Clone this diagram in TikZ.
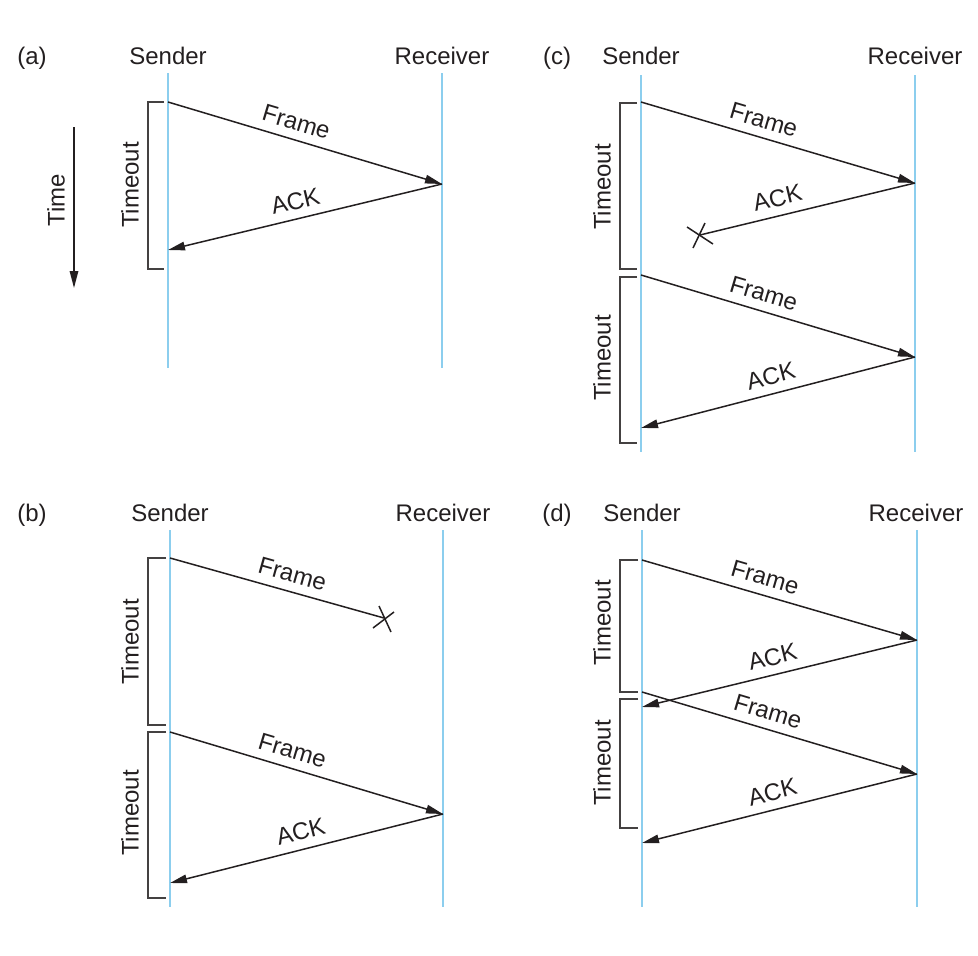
\documentclass[tikz,border=0pt]{standalone}
\usepackage{fontspec}
\setmainfont{Liberation Sans}
\usetikzlibrary{arrows.meta}
\definecolor{inkc}{RGB}{35,31,32}
\definecolor{lifec}{RGB}{140,206,238}
\tikzset{
  life/.style={draw=lifec, line width=1.9pt},
  msg/.style={draw=inkc, line width=1.5pt},
  arr/.style={msg, -{Triangle[length=17pt,width=8.5pt]}},
  brk/.style={draw=inkc!85, line width=1.4pt},
  xmark/.style={draw=inkc, line width=1.5pt},
  hdr/.style={anchor=base, inner sep=0pt, text=inkc, font=\fontsize{24}{28}\selectfont},
  lbl/.style={sloped, above=8.5pt, inner sep=0pt, text=inkc, font=\fontsize{24}{28}\selectfont},
  tmo/.style={rotate=90, inner sep=0pt, text=inkc, font=\fontsize{24}{28}\selectfont},
}
\begin{document}
\begin{tikzpicture}[x=1pt, y=-1pt]
\useasboundingbox (0,0) rectangle (978,956);

% ---------------- (a) ----------------
\node[hdr] (a-lab) at (32,64) {(a)};
\node[hdr] (a-snd) at (168,64) {Sender};
\node[hdr] (a-rcv) at (442,64) {Receiver};
\coordinate (a-st) at (168,73);  \coordinate (a-sb) at (168,368);
\coordinate (a-rt) at (442,73);  \coordinate (a-rb) at (442,368);
\draw[life] (a-st) -- (a-sb);
\draw[life] (a-rt) -- (a-rb);
\coordinate (a-f1) at (168,102); \coordinate (a-r1) at (442,184); \coordinate (a-k1) at (168,250);
\draw[arr] (a-f1) -- node[lbl, pos=.45] (a-fl1) {Frame} (a-r1);
\draw[arr] (a-r1) -- node[lbl, pos=.52] (a-kl1) {ACK} (a-k1);
\draw[brk] (164,102) -| (148,269) -- (164,269);
\node[tmo] (a-to1) at (130,185) {Timeout};
\coordinate (t-top) at (74,127); \coordinate (t-bot) at (74,288);
\draw[arr] (t-top) -- (t-bot);
\node[tmo] (t-lab) at (56,200) {Time};

% ---------------- (b) ----------------
\node[hdr] (b-lab) at (32,521) {(b)};
\node[hdr] (b-snd) at (170,521) {Sender};
\node[hdr] (b-rcv) at (443,521) {Receiver};
\coordinate (b-st) at (170,530);  \coordinate (b-sb) at (170,907);
\coordinate (b-rt) at (443,530);  \coordinate (b-rb) at (443,907);
\draw[life] (b-st) -- (b-sb);
\draw[life] (b-rt) -- (b-rb);
\coordinate (b-f1) at (170,558); \coordinate (b-x1) at (384,618);
\draw[msg] (b-f1) -- node[lbl, pos=.55] (b-fl1) {Frame} (b-x1);
\draw[xmark] (b-x1) ++(-11,10) -- ++(21,-16);
\draw[xmark] (b-x1) ++(-5,-12) -- ++(12,26);
\coordinate (b-f2) at (170,732); \coordinate (b-r2) at (443,814); \coordinate (b-k2) at (170,883);
\draw[arr] (b-f2) -- node[lbl, pos=.43] (b-fl2) {Frame} (b-r2);
\draw[arr] (b-r2) -- node[lbl, pos=.505] (b-kl2) {ACK} (b-k2);
\draw[brk] (166,558) -| (148,725) -- (166,725);
\draw[brk] (166,732) -| (148,898) -- (166,898);
\node[tmo] (b-to1) at (130,642) {Timeout};
\node[tmo] (b-to2) at (130,813) {Timeout};

% ---------------- (c) ----------------
\node[hdr] (c-lab) at (557,64) {(c)};
\node[hdr] (c-snd) at (641,64) {Sender};
\node[hdr] (c-rcv) at (915,64) {Receiver};
\coordinate (c-st) at (641,75);  \coordinate (c-sb) at (641,452);
\coordinate (c-rt) at (915,75);  \coordinate (c-rb) at (915,452);
\draw[life] (c-st) -- (c-sb);
\draw[life] (c-rt) -- (c-rb);
\coordinate (c-f1) at (641,102); \coordinate (c-r1) at (915,183); \coordinate (c-x1) at (700,235);
\draw[arr] (c-f1) -- node[lbl, pos=.43] (c-fl1) {Frame} (c-r1);
\draw[msg] (c-r1) -- node[lbl, pos=.62] (c-kl1) {ACK} (c-x1);
\draw[xmark] (c-x1) ++(-13,-8) -- ++(26,17);
\draw[xmark] (c-x1) ++(-7,13) -- ++(12,-25);
\coordinate (c-f2) at (641,275); \coordinate (c-r2) at (915,357); \coordinate (c-k2) at (641,428);
\draw[arr] (c-f2) -- node[lbl, pos=.43] (c-fl2) {Frame} (c-r2);
\draw[arr] (c-r2) -- node[lbl, pos=.51] (c-kl2) {ACK} (c-k2);
\draw[brk] (637,103) -| (620,269) -- (637,269);
\draw[brk] (637,277) -| (620,443) -- (637,443);
\node[tmo] (c-to1) at (602,187) {Timeout};
\node[tmo] (c-to2) at (602,358) {Timeout};

% ---------------- (d) ----------------
\node[hdr] (d-lab) at (557,521) {(d)};
\node[hdr] (d-snd) at (642,521) {Sender};
\node[hdr] (d-rcv) at (916,521) {Receiver};
\coordinate (d-st) at (642,530);  \coordinate (d-sb) at (642,907);
\coordinate (d-rt) at (917,530);  \coordinate (d-rb) at (917,907);
\draw[life] (d-st) -- (d-sb);
\draw[life] (d-rt) -- (d-rb);
\coordinate (d-f1) at (642,560); \coordinate (d-r1) at (917,640); \coordinate (d-k1) at (642,707);
\coordinate (d-f2) at (642,692); \coordinate (d-r2) at (917,774); \coordinate (d-k2) at (642,843);
\draw[arr] (d-f1) -- node[lbl, pos=.43] (d-fl1) {Frame} (d-r1);
\draw[arr] (d-r1) -- node[lbl, pos=.51] (d-kl1) {ACK} (d-k1);
\draw[arr] (d-f2) -- node[lbl, pos=.44] (d-fl2) {Frame} (d-r2);
\draw[arr] (d-r2) -- node[lbl, pos=.51] (d-kl2) {ACK} (d-k2);
\draw[brk] (638,560) -| (620,692) -- (638,692);
\draw[brk] (638,699) -| (620,828) -- (638,828);
\node[tmo] (d-to1) at (602,623) {Timeout};
\node[tmo] (d-to2) at (602,763) {Timeout};
\end{tikzpicture}
\end{document}
